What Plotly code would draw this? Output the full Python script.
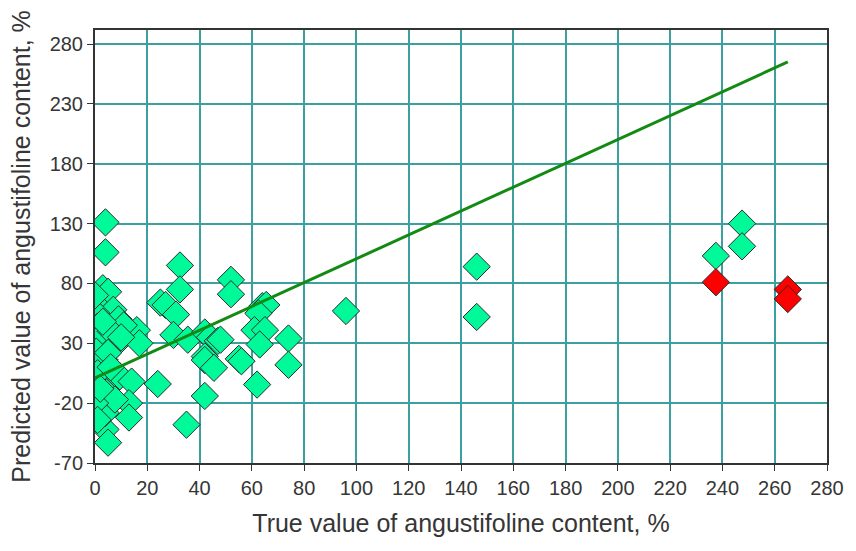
import plotly.graph_objects as go

# Calibration set: true vs predicted angustifoline content (%)
true_val = [4, 4, 3, 5, 1, 7, 0.5, 9, 1, 2.4, 8, 0.5, 3.7, 0, 3, 7, 9.5, 14, 13, 13,
            4.3, 4, 5, 4, 4.4, 7.6, 0, 1, 16, 17, 11, 6, 10, 24, 25, 27, 32.5, 32.5, 31, 30,
            35.5, 42, 44, 47, 42, 42, 45.5, 42, 35, 52, 52, 55, 56, 48, 64, 65.5, 62.5, 61, 65, 63,
            74, 74, 62, 96, 146, 146, 237.5, 247.5, 247.5,
            0, 3, 5, 1, 6, 2]
pred_val = [131, 106, 76, 73, 61, 58, 55, 50, 44, 36, 29, 23, 16, 11, -4.5, 1, 2.4, -2, -20, -32,
            -23, -42, -53, -28, -11, -17, -20, -34, 41, 30, 45, 40, 35, -4, 64, 62, 95, 75, 54, 37,
            33, 39, 35, 32, 19, 16, 9.5, -14, -38, 83, 71, 17, 15, 33, 61, 62, 55, 41, 41, 29,
            34, 12, -4.5, 57, 94, 52, 103, 130, 111,
            70, 48, 22, 5, 10, -8]

# Samples flagged as outliers
outlier_true = [237.5, 265, 265]
outlier_pred = [81, 75, 67]

# Regression line
fit_x = [0, 265]
fit_y = [1, 265]

x_ticks = list(range(0, 281, 20))
y_ticks = list(range(-70, 281, 50))

FONT = "Liberation Sans, Arial, sans-serif"
GRID = "#3c9fa0"
TEXT = "#363636"

fig = go.Figure()

fig.add_trace(go.Scatter(
    x=true_val, y=pred_val, mode="markers",
    marker=dict(symbol="diamond", size=21, color="#00FA9A",
                line=dict(color="#2b2b2b", width=1)),
    showlegend=False,
))

fig.add_trace(go.Scatter(
    x=fit_x, y=fit_y, mode="lines",
    line=dict(color="#138a13", width=3),
    showlegend=False,
))

fig.add_trace(go.Scatter(
    x=outlier_true, y=outlier_pred, mode="markers",
    marker=dict(symbol="diamond", size=21, color="#FF0000",
                line=dict(color="#2b2b2b", width=1)),
    showlegend=False,
))

fig.update_layout(
    width=856, height=551,
    margin=dict(l=95, r=23, t=30, b=88),
    paper_bgcolor="white", plot_bgcolor="white",
    font=dict(family=FONT, color=TEXT),
)

fig.update_xaxes(
    range=[0, 280], tickvals=x_ticks, ticktext=[str(v) for v in x_ticks],
    showgrid=True, gridcolor=GRID, gridwidth=2,
    showline=True, linecolor="#333333", linewidth=2, mirror=True,
    ticks="outside", ticklen=6, tickcolor="#333333", tickwidth=1,
    tickfont=dict(size=20, family=FONT, color=TEXT),
    zeroline=False,
    title=dict(text="True value of angustifoline content, %",
               font=dict(size=25, family=FONT, color=TEXT), standoff=16),
)

fig.update_yaxes(
    range=[-70, 291.7], tickvals=y_ticks, ticktext=[str(v) for v in y_ticks],
    showgrid=True, gridcolor=GRID, gridwidth=2,
    showline=True, linecolor="#333333", linewidth=2, mirror=True,
    ticks="outside", ticklen=6, tickcolor="#333333", tickwidth=1,
    tickfont=dict(size=20, family=FONT, color=TEXT),
    zeroline=False,
    title=dict(text="Predicted value of angustifoline content, %",
               font=dict(size=25, family=FONT, color=TEXT), standoff=12),
)

fig.write_html("out.html")
